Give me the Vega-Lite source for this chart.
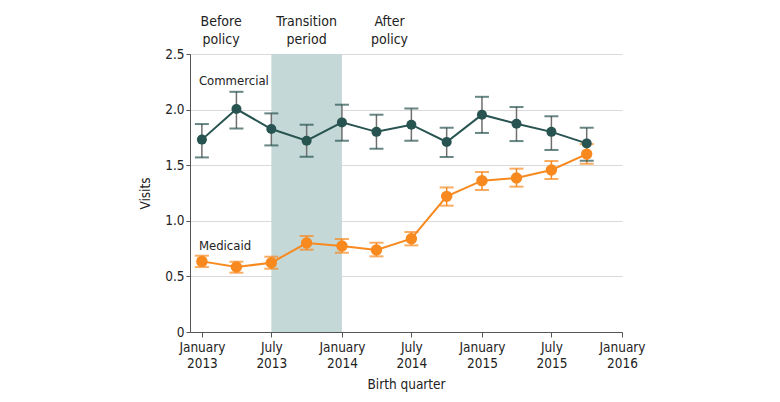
{
  "$schema": "https://vega.github.io/schema/vega-lite/v6.json",
  "width": 432,
  "height": 278,
  "autosize": {"type": "none"},
  "padding": {"left": 190, "top": 54, "right": 158, "bottom": 70},
  "background": "white",
  "config": {
    "font": "DejaVu Sans Condensed",
    "view": {"stroke": null},
    "axis": {"labelFont": "DejaVu Sans Condensed", "titleFont": "DejaVu Sans Condensed", "labelFontSize": 13.5, "titleFontSize": 13.5, "titleFontWeight": "normal", "labelColor": "#222", "titleColor": "#222"}
  },
  "datasets": {
    "visits": [
      {"quarter": "2013-01-01", "series": "Commercial", "v": 1.73, "lo": 1.57, "hi": 1.87},
      {"quarter": "2013-04-01", "series": "Commercial", "v": 2.005, "lo": 1.83, "hi": 2.16},
      {"quarter": "2013-07-01", "series": "Commercial", "v": 1.825, "lo": 1.678, "hi": 1.966},
      {"quarter": "2013-10-01", "series": "Commercial", "v": 1.72, "lo": 1.576, "hi": 1.864},
      {"quarter": "2014-01-01", "series": "Commercial", "v": 1.885, "lo": 1.72, "hi": 2.044},
      {"quarter": "2014-04-01", "series": "Commercial", "v": 1.80, "lo": 1.648, "hi": 1.954},
      {"quarter": "2014-07-01", "series": "Commercial", "v": 1.864, "lo": 1.72, "hi": 2.01},
      {"quarter": "2014-10-01", "series": "Commercial", "v": 1.709, "lo": 1.574, "hi": 1.837},
      {"quarter": "2015-01-01", "series": "Commercial", "v": 1.954, "lo": 1.79, "hi": 2.115},
      {"quarter": "2015-04-01", "series": "Commercial", "v": 1.873, "lo": 1.717, "hi": 2.023},
      {"quarter": "2015-07-01", "series": "Commercial", "v": 1.80, "lo": 1.637, "hi": 1.94},
      {"quarter": "2015-10-01", "series": "Commercial", "v": 1.696, "lo": 1.54, "hi": 1.837},
      {"quarter": "2013-01-01", "series": "Medicaid", "v": 0.635, "lo": 0.584, "hi": 0.686},
      {"quarter": "2013-04-01", "series": "Medicaid", "v": 0.584, "lo": 0.533, "hi": 0.632},
      {"quarter": "2013-07-01", "series": "Medicaid", "v": 0.623, "lo": 0.569, "hi": 0.677},
      {"quarter": "2013-10-01", "series": "Medicaid", "v": 0.80, "lo": 0.74, "hi": 0.863},
      {"quarter": "2014-01-01", "series": "Medicaid", "v": 0.773, "lo": 0.713, "hi": 0.836},
      {"quarter": "2014-04-01", "series": "Medicaid", "v": 0.737, "lo": 0.68, "hi": 0.803},
      {"quarter": "2014-07-01", "series": "Medicaid", "v": 0.839, "lo": 0.779, "hi": 0.899},
      {"quarter": "2014-10-01", "series": "Medicaid", "v": 1.22, "lo": 1.136, "hi": 1.30},
      {"quarter": "2015-01-01", "series": "Medicaid", "v": 1.361, "lo": 1.277, "hi": 1.439},
      {"quarter": "2015-04-01", "series": "Medicaid", "v": 1.385, "lo": 1.307, "hi": 1.469},
      {"quarter": "2015-07-01", "series": "Medicaid", "v": 1.457, "lo": 1.376, "hi": 1.538},
      {"quarter": "2015-10-01", "series": "Medicaid", "v": 1.60, "lo": 1.513, "hi": 1.69}
    ],
    "periods": [
      {"start": "2013-07-01", "end": "2014-01-01", "ymin": 0, "ymax": 2.5}
    ],
    "headers": [
      {"date": "2013-02-20", "y": 2.785, "text": "Before"},
      {"date": "2013-02-20", "y": 2.63, "text": "policy"},
      {"date": "2013-10-01", "y": 2.785, "text": "Transition"},
      {"date": "2013-10-01", "y": 2.63, "text": "period"},
      {"date": "2014-05-05", "y": 2.785, "text": "After"},
      {"date": "2014-05-05", "y": 2.63, "text": "policy"}
    ],
    "labels": [
      {"date": "2013-01-01", "y": 2.26, "label": "Commercial"},
      {"date": "2013-01-01", "y": 0.77, "label": "Medicaid"}
    ]
  },
  "layer": [
    {
      "data": {"name": "periods"},
      "mark": {"type": "rect", "color": "#c4d8d7"},
      "encoding": {
        "x": {"field": "start", "type": "temporal", "scale": {"type": "utc", "domain": [{"year": 2012, "month": 12, "date": 1, "utc": true}, {"year": 2016, "month": 1, "date": 1, "utc": true}]},
          "axis": {
            "title": "Birth quarter",
            "titlePadding": 8,
            "values": [
              {"year": 2013, "month": 1, "date": 1, "utc": true},
              {"year": 2013, "month": 7, "date": 1, "utc": true},
              {"year": 2014, "month": 1, "date": 1, "utc": true},
              {"year": 2014, "month": 7, "date": 1, "utc": true},
              {"year": 2015, "month": 1, "date": 1, "utc": true},
              {"year": 2015, "month": 7, "date": 1, "utc": true},
              {"year": 2016, "month": 1, "date": 1, "utc": true}
            ],
            "labelExpr": "[utcFormat(datum.value, '%B'), utcFormat(datum.value, '%Y')]",
            "labelLineHeight": 16,
            "labelPadding": 3,
            "labelFlush": false,
            "labelOverlap": false,
            "grid": false,
            "domainColor": "#555",
            "tickColor": "#555",
            "tickSize": 5
          }
        },
        "x2": {"field": "end"},
        "y": {"field": "ymin", "type": "quantitative", "scale": {"domain": [0, 2.5], "nice": false},
          "axis": {
            "title": "Visits",
            "titlePadding": 12,
            "values": [0, 0.5, 1, 1.5, 2, 2.5],
            "labelExpr": "datum.value == 0 ? '0' : format(datum.value, '.1f')",
            "gridColor": "#dadada",
            "gridWidth": 1.2,
            "domainColor": "#555",
            "tickColor": "#555",
            "tickSize": 4,
            "labelPadding": 2
          }
        },
        "y2": {"field": "ymax"}
      }
    },
    {
      "data": {"name": "visits"},
      "mark": {"type": "rule", "strokeWidth": 1.5},
      "encoding": {
        "x": {"field": "quarter", "type": "temporal"},
        "y": {"field": "lo", "type": "quantitative"},
        "y2": {"field": "hi"},
        "color": {"condition": {"test": "datum.series === 'Commercial'", "value": "#6f6f6f"}, "value": "#f7891f"}
      }
    },
    {
      "data": {"name": "visits"},
      "mark": {"type": "line", "strokeWidth": 2},
      "encoding": {
        "x": {"field": "quarter", "type": "temporal"},
        "y": {"field": "v", "type": "quantitative"},
        "color": {"field": "series", "type": "nominal", "scale": {"domain": ["Commercial", "Medicaid"], "range": ["#275350", "#f7891f"]}, "legend": null}
      }
    },
    {
      "data": {"name": "visits"},
      "mark": {"type": "tick", "orient": "horizontal", "size": 14, "thickness": 2},
      "encoding": {
        "x": {"field": "quarter", "type": "temporal"},
        "y": {"field": "lo", "type": "quantitative"},
        "color": {"field": "series", "type": "nominal", "legend": null}
      }
    },
    {
      "data": {"name": "visits"},
      "mark": {"type": "tick", "orient": "horizontal", "size": 14, "thickness": 2},
      "encoding": {
        "x": {"field": "quarter", "type": "temporal"},
        "y": {"field": "hi", "type": "quantitative"},
        "color": {"field": "series", "type": "nominal", "legend": null}
      }
    },
    {
      "data": {"name": "visits"},
      "mark": {"type": "point", "filled": true, "opacity": 1},
      "encoding": {
        "x": {"field": "quarter", "type": "temporal"},
        "y": {"field": "v", "type": "quantitative"},
        "color": {"field": "series", "type": "nominal", "legend": null},
        "size": {"condition": {"test": "datum.series === 'Commercial'", "value": 100}, "value": 130}
      }
    },
    {
      "data": {"name": "headers"},
      "mark": {"type": "text", "fontSize": 14, "align": "center", "baseline": "middle", "color": "#222", "clip": false},
      "encoding": {
        "x": {"field": "date", "type": "temporal"},
        "y": {"field": "y", "type": "quantitative"},
        "text": {"field": "text"}
      }
    },
    {
      "data": {"name": "labels"},
      "mark": {"type": "text", "fontSize": 13, "align": "left", "baseline": "middle", "dx": -3, "color": "#222"},
      "encoding": {
        "x": {"field": "date", "type": "temporal"},
        "y": {"field": "y", "type": "quantitative"},
        "text": {"field": "label"}
      }
    }
  ]
}
